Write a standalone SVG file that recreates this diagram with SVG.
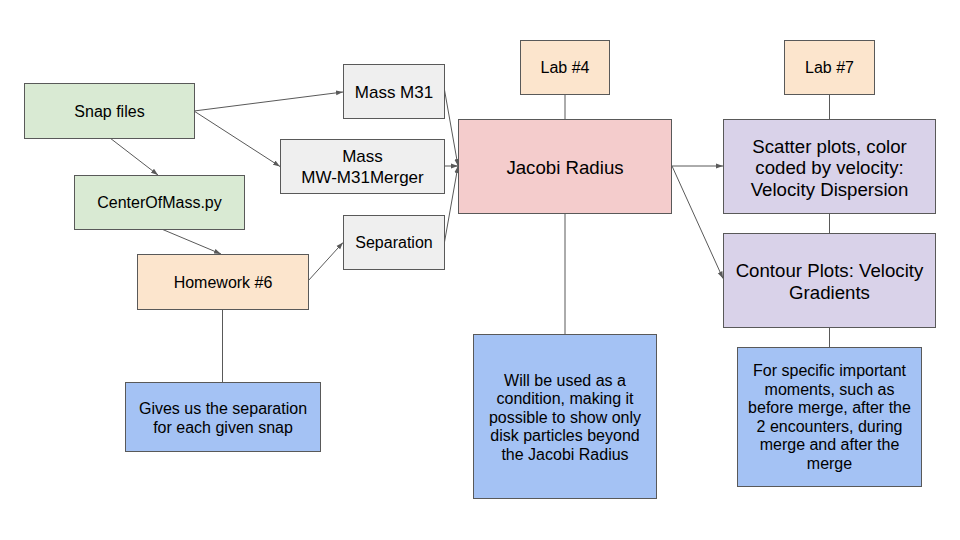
<svg xmlns="http://www.w3.org/2000/svg" width="960" height="540" viewBox="0 0 960 540">
<style>
  .box { stroke: #595959; stroke-width: 1; }
  .green { fill: #d9ead3; }
  .orange { fill: #fce5cd; }
  .gray { fill: #efefef; }
  .pink { fill: #f4cccc; }
  .purple { fill: #d9d2e9; }
  .blue { fill: #a4c2f4; }
  text { font-family: "Liberation Sans", Arial, sans-serif; font-size: 16px; fill: #000000; text-anchor: middle; }
  .big { font-size: 18.67px; }
  .mid { font-size: 17px; }
  .conn line { stroke: #595959; stroke-width: 1; fill: none; }
</style>
<defs>
  <marker id="arrow" markerUnits="userSpaceOnUse" markerWidth="8" markerHeight="6" refX="7" refY="3" orient="auto">
    <path d="M0,0.5 L7,3 L0,5.5 Z" fill="#595959"/>
  </marker>
</defs>
<rect width="960" height="540" fill="#ffffff"/>

<g id="connectors" class="conn">
  <line x1="194" y1="111" x2="343" y2="92" marker-end="url(#arrow)"/>
  <line x1="194" y1="111" x2="280" y2="166.5" marker-end="url(#arrow)"/>
  <line x1="110" y1="138" x2="158" y2="175" marker-end="url(#arrow)"/>
  <line x1="161.5" y1="229" x2="221" y2="254" marker-end="url(#arrow)"/>
  <line x1="308" y1="281" x2="343" y2="242.5" marker-end="url(#arrow)"/>
  <line x1="444.5" y1="90" x2="458" y2="166" marker-end="url(#arrow)"/>
  <line x1="444.5" y1="166" x2="458" y2="166" marker-end="url(#arrow)"/>
  <line x1="444.5" y1="242" x2="458" y2="166" marker-end="url(#arrow)"/>
  <line x1="565" y1="94" x2="565" y2="119"/>
  <line x1="672" y1="166" x2="723" y2="166" marker-end="url(#arrow)"/>
  <line x1="672" y1="166" x2="723" y2="278.5" marker-end="url(#arrow)"/>
  <line x1="829.5" y1="94" x2="829.5" y2="119"/>
  <line x1="829.5" y1="213" x2="829.5" y2="233"/>
  <line x1="829.5" y1="327" x2="829.5" y2="347"/>
  <line x1="565" y1="213" x2="565" y2="334"/>
  <line x1="222.5" y1="309" x2="222.5" y2="382"/>
</g>

<g id="snap-files">
  <rect class="box green" x="24.5" y="83.5" width="170" height="55"/>
  <text x="109.5" y="116.5">Snap files</text>
</g>
<g id="center-of-mass">
  <rect class="box green" x="74.5" y="175.5" width="170" height="54"/>
  <text x="159.5" y="208">CenterOfMass.py</text>
</g>
<g id="homework-6">
  <rect class="box orange" x="137.5" y="254.5" width="171" height="55"/>
  <text x="223" y="287.5">Homework #6</text>
</g>
<g id="mass-m31">
  <rect class="box gray" x="343.5" y="64.5" width="101" height="54"/>
  <text class="mid" x="394" y="97.5">Mass M31</text>
</g>
<g id="mass-mw-m31">
  <rect class="box gray" x="280.5" y="139.5" width="164" height="54"/>
  <text class="mid" x="362.5" y="161.5">Mass</text>
  <text class="mid" x="362.5" y="183">MW-M31Merger</text>
</g>
<g id="separation">
  <rect class="box gray" x="343.5" y="215.5" width="101" height="54"/>
  <text x="394" y="248">Separation</text>
</g>
<g id="jacobi-radius">
  <rect class="box pink" x="458.5" y="119.5" width="213" height="94"/>
  <text class="big" x="565" y="173.5">Jacobi Radius</text>
</g>
<g id="lab-4">
  <rect class="box orange" x="520.5" y="40.5" width="89" height="54"/>
  <text x="565" y="73">Lab #4</text>
</g>
<g id="lab-7">
  <rect class="box orange" x="784.5" y="40.5" width="90" height="54"/>
  <text x="829.5" y="73">Lab #7</text>
</g>
<g id="scatter-plots">
  <rect class="box purple" x="723.5" y="119.5" width="212" height="94"/>
  <text class="big" x="829.5" y="152.5">Scatter plots, color</text>
  <text class="big" x="829.5" y="174">coded by velocity:</text>
  <text class="big" x="829.5" y="196">Velocity Dispersion</text>
</g>
<g id="contour-plots">
  <rect class="box purple" x="723.5" y="233.5" width="212" height="94"/>
  <text class="big" x="829.5" y="276.5">Contour Plots: Velocity</text>
  <text class="big" x="829.5" y="298.5">Gradients</text>
</g>
<g id="gives-separation">
  <rect class="box blue" x="125.5" y="382.5" width="195" height="69"/>
  <text x="223" y="414">Gives us the separation</text>
  <text x="223" y="433">for each given snap</text>
</g>
<g id="jacobi-condition">
  <rect class="box blue" x="473.5" y="334.5" width="183" height="164"/>
  <text x="565" y="385.5">Will be used as a</text>
  <text x="565" y="404">condition, making it</text>
  <text x="565" y="422.5">possible to show only</text>
  <text x="565" y="441">disk particles beyond</text>
  <text x="565" y="459.5">the Jacobi Radius</text>
</g>
<g id="specific-moments">
  <rect class="box blue" x="737.5" y="347.5" width="184" height="139"/>
  <text x="829.5" y="376">For specific important</text>
  <text x="829.5" y="394.5">moments, such as</text>
  <text x="829.5" y="413">before merge, after the</text>
  <text x="829.5" y="431.5">2 encounters, during</text>
  <text x="829.5" y="450">merge and after the</text>
  <text x="829.5" y="468.5">merge</text>
</g>
</svg>
